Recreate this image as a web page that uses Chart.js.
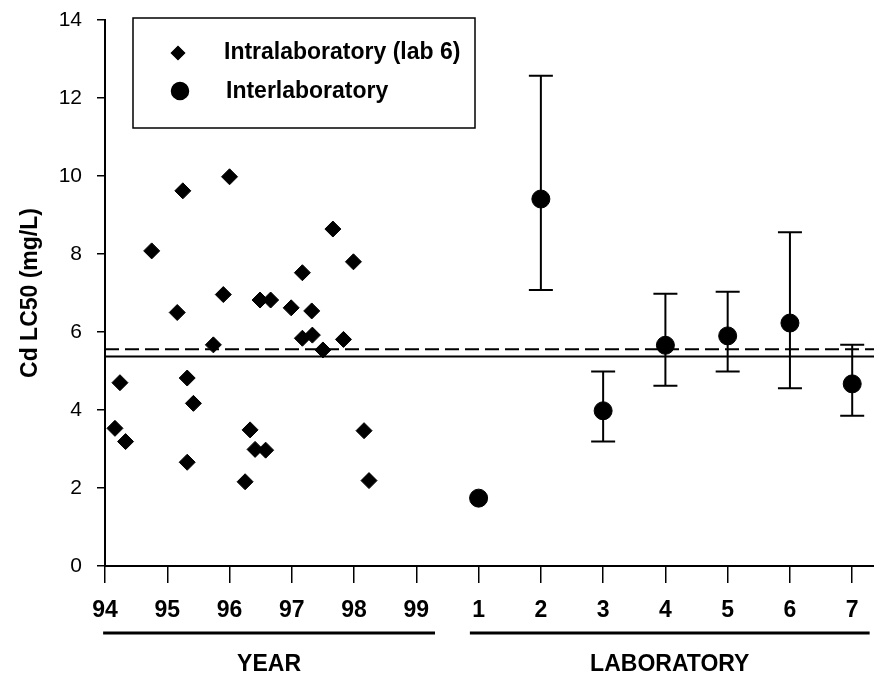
<!DOCTYPE html>
<html>
<head>
<meta charset="utf-8">
<script src="https://cdn.jsdelivr.net/npm/chart.js@4.4.1/dist/chart.umd.min.js"></script>
<style>
  html, body { margin: 0; padding: 0; background: #fff; }
</style>
</head>
<body>
<canvas id="cd-chart" width="874" height="675"></canvas>
<script>
var yearTicks = [94, 95, 96, 97, 98, 99];
var labTicks = [1, 2, 3, 4, 5, 6, 7];
var yTicks = [0, 2, 4, 6, 8, 10, 12, 14];

// intralaboratory tests (lab 6): decimal year, LC50
var intraYear = [94.16, 94.24, 94.33, 94.75, 95.16, 95.25, 95.32, 95.32, 95.42, 95.74,
                 95.90, 96.00, 96.25, 96.33, 96.41, 96.49, 96.58, 96.66, 96.99, 97.17,
                 97.17, 97.32, 97.33, 97.50, 97.66, 97.83, 97.99, 98.16, 98.24];
var intraLC50 = [3.53, 4.70, 3.19, 8.08, 6.50, 9.62, 4.82, 2.66, 4.17, 5.67,
                 6.96, 9.98, 2.16, 3.49, 2.99, 6.82, 2.97, 6.82, 6.62, 7.52,
                 5.84, 6.54, 5.92, 5.54, 8.64, 5.81, 7.80, 3.47, 2.19];

// interlaboratory tests, one per lab, with range
var interLC50 = [1.74, 9.41, 3.98, 5.66, 5.90, 6.23, 4.67];
var interLow  = [null, 7.08, 3.19, 4.62, 4.99, 4.56, 3.85];
var interHigh = [null, 12.57, 4.99, 6.98, 7.03, 8.56, 5.67];

var meanDashed = 5.56;
var meanSolid = 5.37;

// labs share the x axis with the years: lab n sits at 99 + n
var labOffset = 99;
var xMin = 94, xMax = 106.35;

var FONT = "'Liberation Sans', Arial, sans-serif";

var intraPoints = intraYear.map(function(x, i){ return {x: x, y: intraLC50[i]}; });
var interPoints = labTicks.map(function(n, i){ return {x: labOffset + n, y: interLC50[i]}; });
var tickValues = yearTicks.concat(labTicks.map(function(n){ return labOffset + n; }));

var errorBars = {
  id: 'errorBars',
  beforeDatasetsDraw: function(chart){
    var ctx = chart.ctx, xs = chart.scales.x, ys = chart.scales.y;
    ctx.save();
    ctx.strokeStyle = '#000';
    ctx.lineWidth = 2;
    labTicks.forEach(function(n, i){
      if (interLow[i] == null) return;
      var x = xs.getPixelForValue(labOffset + n);
      var yl = ys.getPixelForValue(interLow[i]);
      var yh = ys.getPixelForValue(interHigh[i]);
      ctx.beginPath();
      ctx.moveTo(x, yl); ctx.lineTo(x, yh);
      ctx.moveTo(x - 12, yl); ctx.lineTo(x + 12, yl);
      ctx.moveTo(x - 12, yh); ctx.lineTo(x + 12, yh);
      ctx.stroke();
    });
    ctx.restore();
  }
};

// underlines and the YEAR / LABORATORY captions under the x axis
var groupLabels = {
  id: 'groupLabels',
  afterDraw: function(chart){
    var ctx = chart.ctx, xs = chart.scales.x;
    var groups = [
      {text: 'YEAR', from: 93.97, to: 99.3},
      {text: 'LABORATORY', from: 99.86, to: 106.28}
    ];
    ctx.save();
    ctx.strokeStyle = '#000';
    ctx.fillStyle = '#000';
    ctx.lineWidth = 3;
    ctx.font = 'bold 23px ' + FONT;
    ctx.textAlign = 'center';
    ctx.textBaseline = 'middle';
    groups.forEach(function(g){
      var a = xs.getPixelForValue(g.from), b = xs.getPixelForValue(g.to);
      ctx.beginPath();
      ctx.moveTo(a, 633); ctx.lineTo(b, 633);
      ctx.stroke();
      ctx.fillText(g.text, (a + b) / 2, 665);
    });
    ctx.restore();
  }
};

var boxLegend = {
  id: 'boxLegend',
  afterDraw: function(chart){
    var ctx = chart.ctx;
    ctx.save();
    ctx.strokeStyle = '#000';
    ctx.lineWidth = 1.5;
    ctx.fillStyle = '#fff';
    ctx.fillRect(133, 18, 342, 110);
    ctx.strokeRect(133, 18, 342, 110);
    ctx.fillStyle = '#000';
    Chart.helpers.drawPoint(ctx, {pointStyle: 'rectRot', radius: 6.5, borderWidth: 1}, 178, 53);
    ctx.fill();
    Chart.helpers.drawPoint(ctx, {pointStyle: 'circle', radius: 8.5, borderWidth: 1}, 180, 91);
    ctx.fill();
    ctx.font = 'bold 23px ' + FONT;
    ctx.textBaseline = 'middle';
    ctx.fillText('Intralaboratory (lab 6)', 224, 53);
    ctx.fillText('Interlaboratory', 226, 92);
    ctx.restore();
  }
};

new Chart(document.getElementById('cd-chart'), {
  type: 'scatter',
  data: {
    datasets: [{
      label: 'Intralaboratory (lab 6)',
      data: intraPoints,
      pointStyle: 'rectRot',
      pointRadius: 8,
      backgroundColor: '#000',
      borderColor: '#000',
      borderWidth: 1
    }, {
      label: 'Interlaboratory',
      data: interPoints,
      pointStyle: 'circle',
      pointRadius: 9,
      backgroundColor: '#000',
      borderColor: '#000',
      borderWidth: 1
    }, {
      data: [{x: xMin, y: meanDashed}, {x: xMax, y: meanDashed}],
      showLine: true,
      pointRadius: 0,
      borderColor: '#000',
      borderWidth: 2,
      borderDash: [14, 6]
    }, {
      data: [{x: xMin, y: meanSolid}, {x: xMax, y: meanSolid}],
      showLine: true,
      pointRadius: 0,
      borderColor: '#000',
      borderWidth: 2
    }]
  },
  options: {
    responsive: false,
    animation: false,
    layout: { autoPadding: false, padding: { top: 20, right: 0, left: 0, bottom: 0 } },
    plugins: {
      legend: { display: false },
      tooltip: { enabled: false }
    },
    scales: {
      x: {
        type: 'linear',
        min: xMin,
        max: xMax,
        afterBuildTicks: function(scale){
          scale.ticks = tickValues.map(function(v){ return {value: v}; });
        },
        afterFit: function(scale){
          scale.height = 109;
          scale.paddingLeft = 0;
          scale.paddingRight = 0;
        },
        ticks: {
          autoSkip: false,
          maxRotation: 0,
          padding: 14,
          color: '#000',
          font: { family: FONT, size: 23, weight: 'bold' },
          callback: function(v){ return v > labOffset ? String(v - labOffset) : String(v); }
        },
        grid: { drawOnChartArea: false, drawTicks: true, tickLength: 17, color: '#000', lineWidth: 1.5 },
        border: { display: true, color: '#000', width: 2 }
      },
      y: {
        min: 0,
        max: 14,
        afterBuildTicks: function(scale){
          scale.ticks = yTicks.map(function(v){ return {value: v}; });
        },
        afterFit: function(scale){
          scale.width = 105;
          scale.paddingTop = 0;
          scale.paddingBottom = 0;
        },
        ticks: {
          padding: 15,
          color: '#000',
          font: { family: FONT, size: 21 }
        },
        grid: { drawOnChartArea: false, drawTicks: true, tickLength: 8, color: '#000', lineWidth: 1.5 },
        border: { display: true, color: '#000', width: 2 },
        title: {
          display: true,
          text: 'Cd LC50 (mg/L)',
          color: '#000',
          font: { family: FONT, size: 23, weight: 'bold' },
          padding: { top: 17, bottom: 0 }
        }
      }
    }
  },
  plugins: [errorBars, groupLabels, boxLegend]
});
</script>
</body>
</html>
